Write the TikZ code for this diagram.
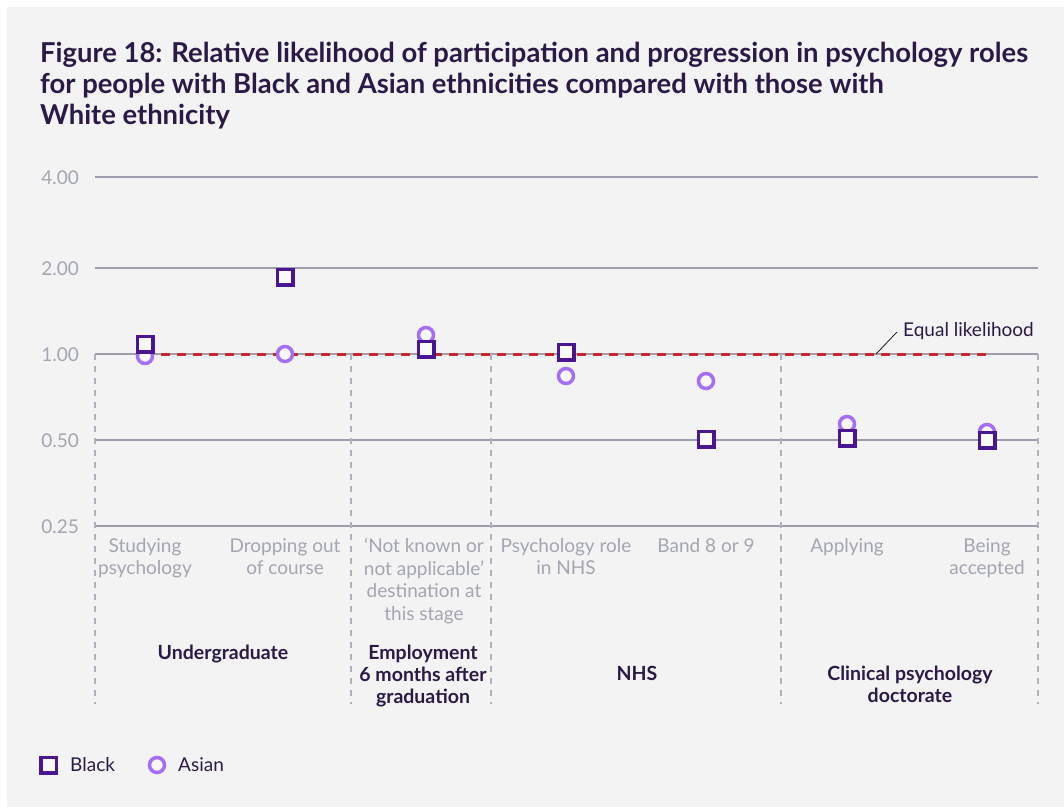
\documentclass[tikz,border=0pt]{standalone}
\usepackage{fontspec}
\setmainfont{Lato}
\definecolor{bgc}{HTML}{F3F3F3}
\definecolor{darkc}{HTML}{2B1A47}
\definecolor{gridc}{HTML}{9C9EAD}
\definecolor{graytext}{HTML}{A3A5B2}
\definecolor{blkc}{HTML}{4A1590}
\definecolor{asnc}{HTML}{A56EF8}
\definecolor{redc}{HTML}{C1272D}
\definecolor{fillc}{HTML}{F8F8F8}
\begin{document}
\begin{tikzpicture}[x=1pt,y=-1pt,
  titletext/.style={anchor=base west, inner sep=0pt, text=darkc, font=\bfseries\fontsize{27.4}{32}\selectfont},
  ticklabel/.style={anchor=east, inner sep=0pt, text=graytext, font=\fontsize{19}{20}\selectfont},
  gridline/.style={draw=gridc, line width=1.2pt},
  sepline/.style={draw=gridc!80, line width=1.2pt, dash pattern=on 6pt off 6pt},
  equalline/.style={draw=redc, line width=3pt, dash pattern=on 9pt off 7pt},
  blk/.style={rectangle, draw=blkc, fill=fillc, line width=3.5pt, minimum size=15.5pt, inner sep=0pt},
  asn/.style={circle, draw=asnc, fill=fillc, line width=3.5pt, minimum size=15pt, inner sep=0pt},
  catlabel/.style={anchor=north, inner sep=0pt, align=center, text=graytext, font=\fontsize{19}{22.5}\selectfont},
  grouplabel/.style={anchor=north, inner sep=0pt, align=center, text=darkc, font=\bfseries\fontsize{19.5}{22}\selectfont},
  legendtext/.style={anchor=west, inner sep=0pt, text=darkc, font=\fontsize{19}{20}\selectfont}
]
\fill[white] (0,0) rectangle (1064,807);
\fill[bgc] (7,7) rectangle (1064,807);
\useasboundingbox (0,0) rectangle (1064,807);

% title
\node[titletext] (t1) at (40,62) {Figure 18: Relative likelihood of participation and progression in psychology roles};
\node[titletext] (t2) at (40,93) {for people with Black and Asian ethnicities compared with those with};
\node[titletext] (t3) at (40,124) {White ethnicity};

% grid
\foreach \yy/\lab/\nm in {177/4.00/a,268/2.00/b,354/1.00/c,440/0.50/d,526/0.25/e}{
  \coordinate (gl\nm) at (95,\yy);
  \coordinate (gr\nm) at (1038,\yy);
  \draw[gridline] (gl\nm) -- (gr\nm);
  \node[ticklabel] (tick\nm) at (79,\yy+1) {\lab};
}

% separators
\foreach \xx/\nm in {95/1,351/2,491/3,781/4,1038/5}{
  \coordinate (st\nm) at (\xx,354);
  \coordinate (sb\nm) at (\xx,704);
  \draw[sepline] (st\nm) -- (sb\nm);
}

% equal likelihood line
\coordinate (eqa) at (145,354);
\coordinate (eqb) at (988,354);
\draw[equalline] (eqa) -- (eqb);
\coordinate (eqp) at (876,354);
\node[anchor=base west, inner sep=0pt, text=darkc, font=\fontsize{19}{20}\selectfont] (eqlab) at (903,336) {Equal likelihood};
\coordinate (eqq) at (897,332);
\draw[black, line width=0.7pt] (eqq) -- (eqp);

% Asian circles
\node[asn] (a1) at (145,356) {};
\node[asn] (a2) at (285,354) {};
\node[asn] (a3) at (426,335) {};
\node[asn] (a4) at (566,376) {};
\node[asn] (a5) at (706,381) {};
\node[asn] (a6) at (847,424) {};
\node[asn] (a7) at (987,432) {};

% Black squares
\node[blk] (b1) at (145,344) {};
\node[blk] (b2) at (285,277) {};
\node[blk] (b3) at (426,349) {};
\node[blk] (b4) at (566,352) {};
\node[blk] (b5) at (706,439) {};
\node[blk] (b6) at (847,438) {};
\node[blk] (b7) at (987,440) {};

% category labels
\node[catlabel] (c1) at (145,538) {Studying\\psychology};
\node[catlabel] (c2) at (285,538) {Dropping out\\of course};
\node[catlabel] (c3) at (424,538) {‘Not known or\\not applicable’\\destination at\\this stage};
\node[catlabel] (c4) at (566,538) {Psychology role\\in NHS};
\node[catlabel] (c5) at (706,538) {Band 8 or 9};
\node[catlabel] (c6) at (847,538) {Applying};
\node[catlabel] (c7) at (987,538) {Being\\accepted};

% group labels
\node[grouplabel] (g1) at (223,645) {Undergraduate};
\node[grouplabel] (g2) at (423,645) {Employment\\6 months after\\graduation};
\node[grouplabel] (g3) at (637,666) {NHS};
\node[grouplabel] (g4) at (910,666) {Clinical psychology\\doctorate};

% legend
\node[blk] (lb) at (48.5,765) {};
\node[legendtext] (lbt) at (70,765) {Black};
\node[asn] (la) at (157,765) {};
\node[legendtext] (lat) at (178,765) {Asian};
\end{tikzpicture}
\end{document}
